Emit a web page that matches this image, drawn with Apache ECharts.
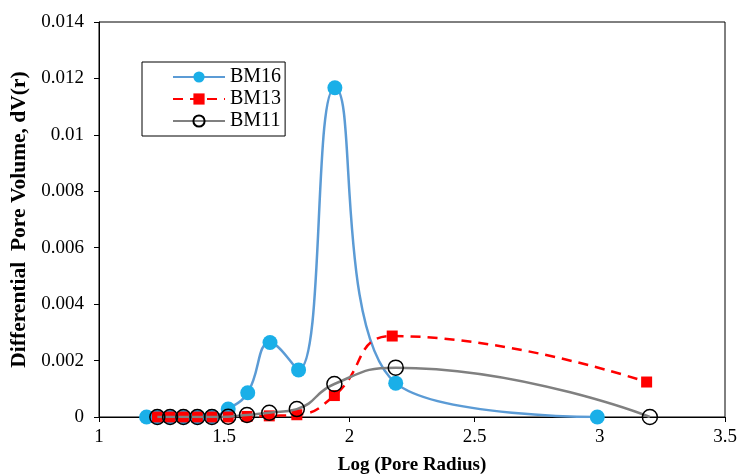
<!DOCTYPE html>
<html>
<head>
<meta charset="utf-8">
<script src="https://cdn.jsdelivr.net/npm/echarts@6/dist/echarts.min.js"></script>
<style>
  html, body { margin: 0; padding: 0; background: #fff; }
  #main { width: 737px; height: 474px; }
</style>
</head>
<body>
<div id="main"></div>
<script>
// values
var xBM16 = [1.19, 1.233, 1.284, 1.337, 1.393, 1.451, 1.516, 1.594, 1.683, 1.797, 1.942, 2.185, 2.99];
var yBM16 = [0, 0, 0, 0, 0, 0.00002, 0.00028, 0.00086, 0.00264, 0.00167, 0.01167, 0.0012, 0];

var xBM13 = [1.233, 1.284, 1.337, 1.393, 1.451, 1.516, 1.591, 1.68, 1.79, 1.94, 2.171, 3.187];
var yBM13 = [0, 0, 0, 0, 0, 0, 0.00002, 0.00004, 0.00008, 0.00076, 0.00287, 0.00124];

var xBM11 = [1.233, 1.284, 1.337, 1.393, 1.451, 1.516, 1.591, 1.68, 1.79, 1.94, 2.185, 3.2];
var yBM11 = [0, 0, 0, 0, 0, 0.00001, 0.00007, 0.00015, 0.00028, 0.00117, 0.00175, 0];

function pairs(xs, ys) {
  return xs.map(function (x, i) { return [x, ys[i]]; });
}

var font = 'Liberation Serif';
var myChart = echarts.init(document.getElementById('main'));

myChart.setOption({
  animation: false,
  grid: {
    left: 99, right: 12, top: 22, bottom: 57,
    outerBoundsMode: 'none',
    show: true, borderColor: '#000', borderWidth: 1
  },
  legend: {
    left: 142, top: 62,
    orient: 'vertical',
    itemWidth: 52, itemHeight: 14, itemGap: 0,
    padding: [4, 4, 4, 30],
    borderColor: '#000', borderWidth: 1,
    backgroundColor: '#fff',
    textStyle: { fontFamily: font, fontSize: 20, lineHeight: 22, color: '#000' },
    data: ['BM16', 'BM13', 'BM11']
  },
  xAxis: {
    type: 'value',
    min: 1, max: 3.5, interval: 0.5,
    name: 'Log (Pore Radius)',
    nameLocation: 'middle', nameGap: 39,
    nameTextStyle: { fontFamily: font, fontSize: 19, fontWeight: 'bold', color: '#000' },
    axisLine: { lineStyle: { color: '#000', width: 1 } },
    axisTick: { show: true, inside: false, length: 5, lineStyle: { color: '#000' } },
    axisLabel: { fontFamily: font, fontSize: 19, color: '#000', margin: 11 },
    splitLine: { show: false }
  },
  yAxis: {
    type: 'value',
    min: 0, max: 0.014, interval: 0.002,
    name: 'Differential  Pore Volume, dV(r)',
    nameLocation: 'middle', nameGap: 65,
    nameTextStyle: { fontFamily: font, fontSize: 21.5, fontWeight: 'bold', color: '#000' },
    axisLine: { show: true, lineStyle: { color: '#000', width: 1 } },
    axisTick: { show: true, inside: false, length: 5, lineStyle: { color: '#000' } },
    axisLabel: { fontFamily: font, fontSize: 19, color: '#000', margin: 15 },
    splitLine: { show: false }
  },
  series: [
    {
      name: 'BM16',
      type: 'line',
      smooth: 0.45,
      data: pairs(xBM16, yBM16),
      symbol: 'circle',
      symbolSize: 15,
      lineStyle: { color: '#5B9BD5', width: 2.5 },
      itemStyle: { color: '#1AAFE8', borderWidth: 0 },
      z: 2
    },
    {
      name: 'BM13',
      type: 'line',
      smooth: 0.5,
      data: pairs(xBM13, yBM13),
      symbol: 'rect',
      symbolSize: 11,
      lineStyle: { color: '#FF0000', width: 2.5, type: [10, 7] },
      itemStyle: { color: '#FF0000', borderWidth: 0 },
      z: 3
    },
    {
      name: 'BM11',
      type: 'line',
      smooth: 0.5,
      data: pairs(xBM11, yBM11),
      symbol: 'circle',
      symbolSize: 15,
      lineStyle: { color: '#808080', width: 2.5 },
      itemStyle: { color: 'rgba(255,255,255,0)', borderColor: '#000', borderWidth: 1.5 },
      z: 4
    }
  ]
});
</script>
</body>
</html>
